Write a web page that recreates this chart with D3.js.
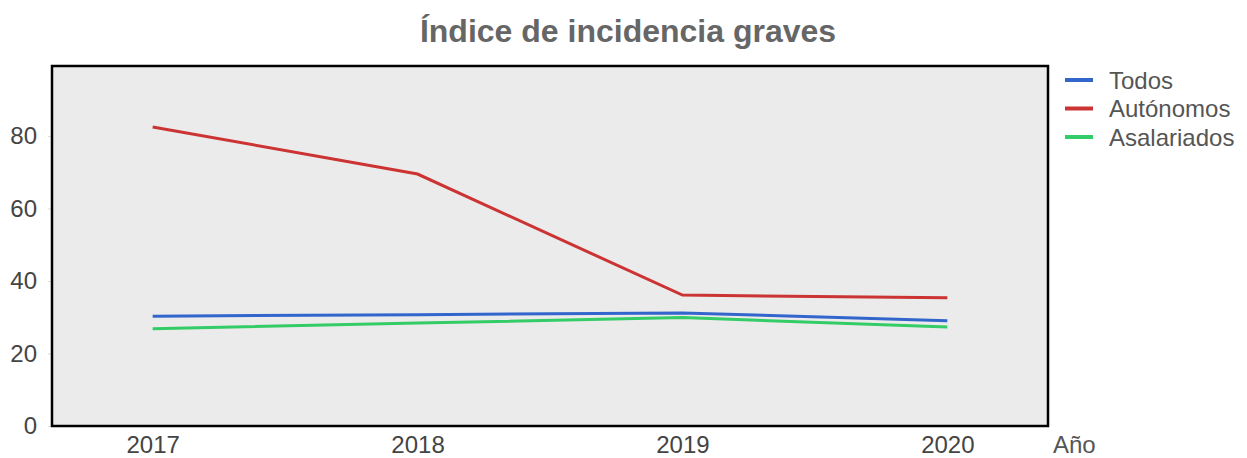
<!DOCTYPE html>
<html>
<head>
<meta charset="utf-8">
<script src="https://cdn.jsdelivr.net/npm/d3@7"></script>
<style>
  body { margin: 0; background: #fff; }
  text { font-family: "Liberation Sans", Arial, sans-serif; }
</style>
</head>
<body>
<div id="grafico"></div>
<script>
// Datos
const anios = ["2017", "2018", "2019", "2020"];
const todos = [30.3, 30.7, 31.2, 29.0];
const autonomos = [82.5, 69.5, 36.1, 35.4];
const asalariados = [26.8, 28.4, 29.9, 27.3];
const ticksY = [0, 20, 40, 60, 80];

const series = [
    { nombre: "Todos", valores: todos, color: "#3366cc" },
    { nombre: "Autónomos", valores: autonomos, color: "#cc3333" },
    { nombre: "Asalariados", valores: asalariados, color: "#33cc66" }
];

const W = 1247, H = 458;
const margin = { top: 66, right: 200, bottom: 32, left: 52 };
const width = 1048 - margin.left;
const height = 426 - margin.top;

const svg = d3.select("#grafico")
    .append("svg")
    .attr("width", W)
    .attr("height", H);

// Titulo
svg.append("text")
    .attr("x", 628)
    .attr("y", 42)
    .attr("text-anchor", "middle")
    .attr("font-size", 32)
    .attr("font-weight", "bold")
    .attr("fill", "#666")
    .text("Índice de incidencia graves");

const g = svg.append("g")
    .attr("transform", `translate(${margin.left}, ${margin.top})`);

// Escalas
const x = d3.scalePoint()
    .domain(anios)
    .range([0, width])
    .padding(0.38);

const y = d3.scaleLinear()
    .domain([0, 99.3])
    .range([height, 0]);

// Fondo
g.append("rect")
    .attr("width", width)
    .attr("height", height)
    .attr("fill", "#ebebeb");

// Eje Y
const ejeY = g.append("g")
    .call(d3.axisLeft(y).tickValues(ticksY).tickSize(4).tickPadding(11).tickFormat(d3.format("d")));
ejeY.select(".domain").remove();
ejeY.selectAll(".tick line").attr("stroke", "#ddd");
ejeY.selectAll(".tick text")
    .attr("font-size", 24)
    .attr("fill", "#444")
    .attr("font-family", "Liberation Sans, Arial, sans-serif");

// Eje X
const ejeX = g.append("g")
    .attr("transform", `translate(0, ${height})`)
    .call(d3.axisBottom(x).tickSize(0).tickPadding(10));
ejeX.select(".domain").remove();
ejeX.selectAll(".tick text")
    .attr("font-size", 24)
    .attr("fill", "#444")
    .attr("font-family", "Liberation Sans, Arial, sans-serif");

g.append("text")
    .attr("x", width + 5)
    .attr("y", height + 27)
    .attr("font-size", 24)
    .attr("fill", "#555")
    .text("Año");

// Lineas
const linea = d3.line()
    .x((d, i) => x(anios[i]))
    .y(d => y(d));

series.forEach(s => {
    g.append("path")
        .datum(s.valores)
        .attr("d", linea)
        .attr("fill", "none")
        .attr("stroke", s.color)
        .attr("stroke-width", 3);
});

// Borde
g.append("rect")
    .attr("width", width)
    .attr("height", height)
    .attr("fill", "none")
    .attr("stroke", "#000")
    .attr("stroke-width", 2.5);

// Leyenda
const leyenda = svg.append("g")
    .attr("transform", `translate(1065, 80)`);

series.forEach((s, i) => {
    leyenda.append("line")
        .attr("x1", 0)
        .attr("x2", 28)
        .attr("y1", i * 28.5)
        .attr("y2", i * 28.5)
        .attr("stroke", s.color)
        .attr("stroke-width", 4);

    leyenda.append("text")
        .attr("x", 44)
        .attr("y", i * 28.5 + 8.5)
        .attr("font-size", 24)
        .attr("fill", "#555")
        .text(s.nombre);
});
</script>
</body>
</html>
